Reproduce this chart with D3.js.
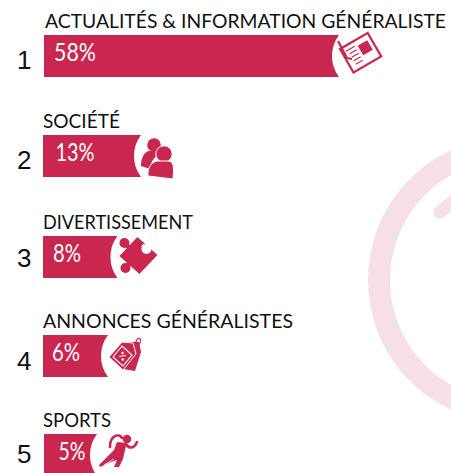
<!DOCTYPE html>
<html><head><meta charset="utf-8">
<script src="https://cdn.jsdelivr.net/npm/d3@7"></script>
<style>html,body{margin:0;padding:0;background:#fff;overflow:hidden}svg{display:block}</style>
</head><body><div id="chart"></div>
<script>
const ranks = [1, 2, 3, 4, 5];
const categories = ["ACTUALITÉS & INFORMATION GÉNÉRALISTE", "SOCIÉTÉ", "DIVERTISSEMENT", "ANNONCES GÉNÉRALISTES", "SPORTS"];
const values = [58, 13, 8, 6, 5];
const iconNames = ["news", "people", "puzzle", "tag", "runner"];

const W = 451, H = 473, RED = "#c92650", PINK = "#f6dfe7";
const svg = d3.select("#chart").append("svg").attr("width", W).attr("height", H);

// The source bars are not proportional: a piecewise scale reproduces their drawn lengths.
const len = d3.scaleLinear().domain([5, 6, 13, 58]).range([53, 65, 98, 295]);
const top_ = d3.scaleOrdinal(ranks, [35, 135, 236, 335, 434]);
const rankY = d3.scaleOrdinal(ranks, [69, 169, 267, 370, 463]);
const left = d3.scaleOrdinal(ranks, [44, 43, 43, 43, 44]);
const labelX = d3.scaleOrdinal(ranks, [45, 43, 43, 43, 43]);
const valueX = d3.scaleOrdinal(ranks, [75, 75, 67, 66, 72]);
const valueW = d3.scaleOrdinal(ranks, [42, 39, 28, 28, 27]);
const labelW = d3.scaleOrdinal(ranks, [401, 77, 150, 250, 68]);
const barH = 42, notchR = 35;

// background watermark
const wm = svg.append("g").attr("fill", "none").attr("stroke", PINK);
wm.append("circle").attr("cx", 511).attr("cy", 280).attr("r", 132).attr("stroke-width", 22);
wm.append("line").attr("x1", 440).attr("y1", 212).attr("x2", 470).attr("y2", 188)
  .attr("stroke-width", 13).attr("stroke-linecap", "round");

const icons = {
  news(g) {
    const s = g.append("g").attr("transform", "translate(1,14) rotate(-30)");
    g.append("path").attr("fill", "none").attr("stroke", RED).attr("stroke-width", 2.2)
      .attr("d", "M-1,6 L8,23 L13,24");
    s.append("rect").attr("width", 32).attr("height", 27).attr("fill", "#fff")
      .attr("stroke", RED).attr("stroke-width", 2.2);
    s.append("rect").attr("x", 17).attr("y", 6).attr("width", 11).attr("height", 11).attr("fill", RED);
    s.selectAll("line.l").data(d3.range(5)).join("line")
      .attr("x1", d => d === 0 ? 4 : 6).attr("x2", 14)
      .attr("y1", d => 5 + d * 4).attr("y2", d => 5 + d * 4)
      .attr("stroke", RED).attr("stroke-width", 1.2);
  },
  people(g) {
    g.append("circle").attr("cx", 13).attr("cy", 10).attr("r", 6.8).attr("fill", RED);
    g.append("path").attr("fill", RED).attr("d", "M0,31 C0,23 3,17 8,16 L18,16 L20,19 C14,21 10,25 9,34 Z");
    g.append("circle").attr("cx", 23).attr("cy", 19).attr("r", 8.2).attr("fill", RED).attr("stroke", "#fff").attr("stroke-width", 1);
    g.append("path").attr("fill", RED).attr("stroke", "#fff").attr("stroke-width", 1)
      .attr("d", "M7,41 C6,33 11,26 17,26 L28,26 C33,27 33,33 32,44 Z");
  },
  puzzle(g) {
    g.append("path").attr("fill", RED).attr("d", "M2,20 L20,1 L40,19 L22,38 Z");
    g.append("circle").attr("cx", 7).attr("cy", 7).attr("r", 5).attr("fill", RED);
    g.append("path").attr("stroke", RED).attr("stroke-width", 4).attr("d", "M7,7 L13,13");
    g.append("circle").attr("cx", 8).attr("cy", 32).attr("r", 5).attr("fill", RED);
    g.append("path").attr("stroke", RED).attr("stroke-width", 4).attr("d", "M8,32 L13,27");
    g.append("circle").attr("cx", 29).attr("cy", 13).attr("r", 5).attr("fill", "#fff");
    g.append("path").attr("stroke", "#fff").attr("stroke-width", 3.5).attr("d", "M29,13 L25,9");
  },
  tag(g) {
    g.append("path").attr("fill", RED).attr("d", "M18,7 L31,7 L33,17 L27,36 L15,34 Z");
    g.append("path").attr("fill", "none").attr("stroke", RED).attr("stroke-width", 1.2)
      .attr("d", "M26,11 C28,8 29,1 32,4 C33,5 32,8 31,10");
    g.append("path").attr("fill", RED).attr("stroke", "#fff").attr("stroke-width", 1)
      .attr("d", "M1,22 L14,7 L25,8 L28,19 L15,35 Z");
    g.append("path").attr("fill", "none").attr("stroke", "#fff").attr("stroke-width", 1.1)
      .attr("d", "M5,22 L14,11 L24,20 L15,31 Z");
    g.append("path").attr("stroke", "#fff").attr("stroke-width", 1).attr("d", "M11,21.5 L18,20.5");
    g.append("circle").attr("cx", 14.5).attr("cy", 18).attr("r", 1.2).attr("fill", "#fff");
    g.append("circle").attr("cx", 14.8).attr("cy", 24.5).attr("r", 1.2).attr("fill", "#fff");
  },
  runner(g) {
    g.append("circle").attr("cx", 30).attr("cy", 5).attr("r", 4.3).attr("fill", RED);
    g.append("path").attr("fill", "none").attr("stroke", RED).attr("stroke-width", 2.6).attr("stroke-linecap", "round")
      .attr("d", "M13,13 C13,1 22,-1 25,4");
    g.append("path").attr("fill", "none").attr("stroke", RED).attr("stroke-width", 2.6).attr("stroke-linecap", "round")
      .attr("d", "M29,10 C32,15 37,15 40,8");
    g.append("path").attr("fill", RED)
      .attr("d", "M20,8 L30,9 L28,16 L26,25 L22,33 L17,33 L20,26 L14,28 L3,33 L2,31 L12,21 L17,16 Z");
    g.append("path").attr("stroke", "#fff").attr("stroke-width", .8).attr("d", "M7,31 L17,25");
  }
};

const rows = d3.zip(ranks, categories, values, iconNames);
const row = svg.selectAll("g.row").data(rows).join("g").attr("class", "row");

row.append("text").attr("x", 17).attr("y", d => rankY(d[0]))
  .attr("font-family", "'Liberation Sans'").attr("font-size", 26).attr("fill", "#111").text(d => d[0]);

row.append("text").attr("x", d => labelX(d[0])).attr("y", d => top_(d[0]) - 7)
  .attr("font-family", "Lato").attr("font-size", 19).attr("fill", "#111")
  .attr("textLength", d => labelW(d[0])).attr("lengthAdjust", "spacingAndGlyphs").text(d => d[1]);

row.append("path").attr("fill", RED).attr("d", d => {
  const x0 = left(d[0]), x1 = x0 + len(d[2]), y0 = top_(d[0]);
  return `M${x0},${y0}H${x1}A${notchR},${notchR} 0 0 0 ${x1},${y0 + barH}H${x0}Z`;
});

row.append("text").attr("x", d => valueX(d[0]) - valueW(d[0]) / 2).attr("y", d => top_(d[0]) + 26)
  .attr("font-family", "Lato").attr("font-weight", 400)
  .attr("font-size", 25).attr("fill", "#fff")
  .attr("textLength", d => valueW(d[0])).attr("lengthAdjust", "spacingAndGlyphs").text(d => d[2] + "%");

row.append("g")
  .attr("transform", d => `translate(${left(d[0]) + len(d[2])},${top_(d[0])})`)
  .each(function (d) { icons[d[3]](d3.select(this)); });
</script></body></html>
